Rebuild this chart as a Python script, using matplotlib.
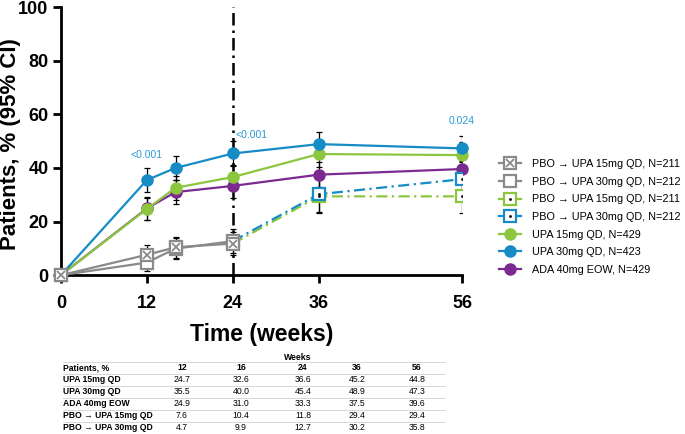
import numpy as np
import matplotlib.pyplot as plt
from matplotlib.lines import Line2D

plt.rcParams['font.family'] = ['Liberation Sans', 'DejaVu Sans']

# Dados
semanas = [0, 12, 16, 24, 36, 56]
upa15 = [0, 24.7, 32.6, 36.6, 45.2, 44.8]
upa30 = [0, 35.5, 40.0, 45.4, 48.9, 47.3]
ada40 = [0, 24.9, 31.0, 33.3, 37.5, 39.6]
upa15_err = [0, 4.0, 4.5, 4.5, 4.7, 4.7]
upa30_err = [0, 4.5, 4.6, 4.7, 4.7, 4.7]
ada40_err = [0, 4.2, 4.4, 4.5, 4.6, 4.7]

# Placebo (até semana 24) e depois troca para UPA
pbo_semanas = [0, 12, 16, 24]
pbo15 = [0, 7.6, 10.4, 11.8]
pbo30 = [0, 4.7, 9.9, 12.7]
pbo15_err = [0, 3.5, 4.0, 4.3]
pbo30_err = [0, 3.0, 4.0, 4.5]
troca_semanas = [24, 36, 56]
troca15 = [11.8, 29.4, 29.4]
troca30 = [12.7, 30.2, 35.8]
troca15_err = [0, 6.3, 6.3]
troca30_err = [0, 6.5, 6.5]

# Valores de p
p_semanas = [12, 24, 56]
p_textos = ["<0.001", "<0.001", "0.024"]

# Tabela
tabela_linhas = ["UPA 15mg QD", "UPA 30mg QD", "ADA 40mg EOW",
                 "PBO \u2192 UPA 15mg QD", "PBO \u2192 UPA 30mg QD"]
tabela_semanas = ["12", "16", "24", "36", "56"]
tabela_valores = [upa15[1:], upa30[1:], ada40[1:], pbo15[1:] + troca15[1:], pbo30[1:] + troca30[1:]]

verde = "#8cc63f"
azul = "#168bc5"
roxo = "#7b2a8f"
cinza = "#8a8a8a"
azul_p = "#2a9bd3"

fig = plt.figure(figsize=(6.85, 4.34), dpi=100)
ax = fig.add_axes([0.089, 0.366, 0.5854, 0.6175])

ax.axvline(24, color="black", linewidth=1.8, linestyle=(0, (5, 2, 1, 2)), zorder=1)

kw_err = dict(fmt="none", ecolor="black", elinewidth=0.9, capsize=2, capthick=0.9, zorder=2)

for y, e, c in [(ada40, ada40_err, roxo), (upa15, upa15_err, verde), (upa30, upa30_err, azul)]:
    ax.errorbar(semanas[1:], y[1:], yerr=e[1:], **kw_err)
    ax.plot(semanas, y, color=c, linewidth=1.6, marker="o", markersize=8,
            clip_on=False, zorder=3)

# Continuação após a troca
for y, e, c in [(troca15, troca15_err, verde), (troca30, troca30_err, azul)]:
    ax.errorbar(troca_semanas[1:], y[1:], yerr=e[1:], **kw_err)
    ax.plot(troca_semanas, y, color=c, linewidth=1.6, linestyle=(0, (5, 2, 1, 2)), zorder=3)
    ax.plot(troca_semanas[1:], y[1:], linestyle="none", marker="s", markersize=9,
            markerfacecolor="white", markeredgecolor=c, markeredgewidth=1.6, zorder=4)
    ax.plot(troca_semanas[1:], y[1:], linestyle="none", marker=".", markersize=2,
            color="black", zorder=5)

# Placebo
ax.errorbar(pbo_semanas[1:], pbo30[1:], yerr=pbo30_err[1:], **kw_err)
ax.errorbar(pbo_semanas[1:], pbo15[1:], yerr=pbo15_err[1:], **kw_err)
ax.plot(pbo_semanas, pbo30, color=cinza, linewidth=1.6, marker="s", markersize=9,
        markerfacecolor="white", markeredgecolor=cinza, markeredgewidth=1.6,
        clip_on=False, zorder=6)
ax.plot(pbo_semanas, pbo15, color=cinza, linewidth=1.6, marker="s", markersize=9,
        markerfacecolor="white", markeredgecolor=cinza, markeredgewidth=1.6,
        clip_on=False, zorder=7)
ax.plot(pbo_semanas, pbo15, linestyle="none", marker="x", markersize=6,
        markeredgecolor=cinza, markeredgewidth=1.3, clip_on=False, zorder=8)

# Anotações de p
ax.text(p_semanas[0], 43, p_textos[0], color=azul_p, fontsize=7.5, ha="center", va="bottom")
ax.text(p_semanas[1] + 0.4, 50.5, p_textos[1], color=azul_p, fontsize=7.5, ha="left", va="bottom")
ax.text(p_semanas[2], 55.5, p_textos[2], color=azul_p, fontsize=7.5, ha="center", va="bottom")

ax.set_xlim(0, 56)
ax.set_ylim(0, 100)
ax.set_xticks([0, 12, 24, 36, 56])
ax.set_yticks([0, 20, 40, 60, 80, 100])
for s in ["top", "right"]:
    ax.spines[s].set_visible(False)
for s in ["left", "bottom"]:
    ax.spines[s].set_linewidth(2)
ax.tick_params(width=2, length=6, labelsize=13)
ax.tick_params(axis="x", pad=8)
ax.tick_params(axis="y", pad=3)
for lbl in ax.get_xticklabels() + ax.get_yticklabels():
    lbl.set_fontweight("bold")
ax.set_xlabel("Time (weeks)", fontsize=16.5, fontweight="bold", labelpad=8)
ax.set_ylabel("Patients, % (95% CI)", fontsize=16, fontweight="bold")
ax.yaxis.set_label_coords(-0.1, 0.49)

# Legenda
sq = dict(marker="s", markersize=9, markerfacecolor="white", markeredgewidth=1.6)
h1 = (Line2D([], [], color=cinza, linewidth=1.6, markeredgecolor=cinza, **sq),
      Line2D([], [], linestyle="none", marker="x", markersize=6, markeredgecolor=cinza,
             markeredgewidth=1.3))
h2 = Line2D([], [], color=cinza, linewidth=1.6, markeredgecolor=cinza, **sq)
h3 = (Line2D([], [], color=verde, linewidth=1.6, markeredgecolor=verde, **sq),
      Line2D([], [], linestyle="none", marker=".", markersize=2, color="black"))
h4 = (Line2D([], [], color=azul, linewidth=1.6, markeredgecolor=azul, **sq),
      Line2D([], [], linestyle="none", marker=".", markersize=2, color="black"))
h5 = Line2D([], [], color=verde, linewidth=1.6, marker="o", markersize=8)
h6 = Line2D([], [], color=azul, linewidth=1.6, marker="o", markersize=8)
h7 = Line2D([], [], color=roxo, linewidth=1.6, marker="o", markersize=8)
rotulos = ["PBO \u2192 UPA 15mg QD, N=211", "PBO \u2192 UPA 30mg QD, N=212",
           "PBO \u2192 UPA 15mg QD, N=211", "PBO \u2192 UPA 30mg QD, N=212",
           "UPA 15mg QD, N=429", "UPA 30mg QD, N=423", "ADA 40mg EOW, N=429"]
fig.legend([h1, h2, h3, h4, h5, h6, h7], rotulos, loc="center left",
           bbox_to_anchor=(494 / 685, 1 - 217 / 434), frameon=False, fontsize=7.8,
           handlelength=2.0, handletextpad=1.0, labelspacing=0.7, borderpad=0)

# Tabela
def fy(py):
    return 1 - py / 434

fs_tab = 6.2
col_x = [182, 241, 303, 357, 417]
lin_y = [380, 392, 404, 416, 428]
fig.text(298 / 685, fy(357), "Weeks", fontsize=fs_tab, fontweight="bold", ha="center", va="center")
fig.text(63 / 685, fy(368), "Patients, %", fontsize=fs_tab, fontweight="bold", ha="left", va="center")
for x, s in zip(col_x, tabela_semanas):
    fig.text(x / 685, fy(368), s, fontsize=fs_tab, fontweight="bold", ha="center", va="center")
for y, nome, vals in zip(lin_y, tabela_linhas, tabela_valores):
    fig.text(63 / 685, fy(y), nome, fontsize=fs_tab, fontweight="bold", ha="left", va="center")
    for x, v in zip(col_x, vals):
        fig.text(x / 685, fy(y), f"{v:.1f}", fontsize=fs_tab, ha="center", va="center")
for py in [362, 374, 386, 398, 410, 422]:
    fig.add_artist(Line2D([63 / 685, 445 / 685], [fy(py), fy(py)], color="#d0d0d0", linewidth=0.6))

fig.savefig("out.png", dpi=100)
